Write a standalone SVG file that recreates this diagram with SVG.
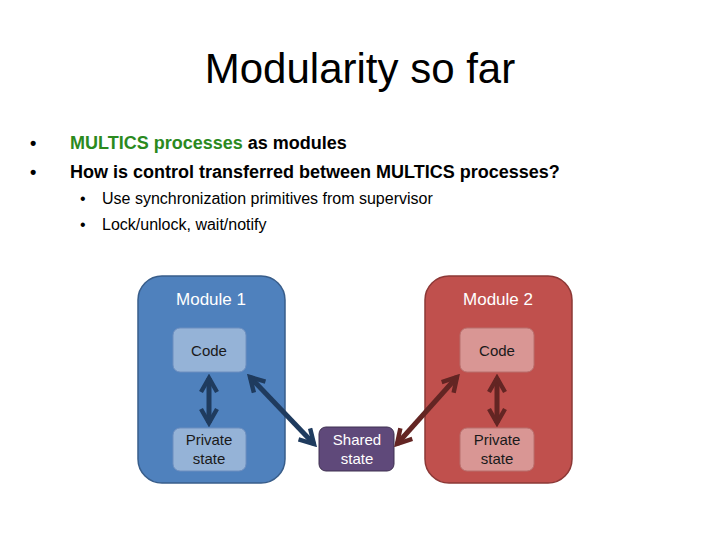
<svg xmlns="http://www.w3.org/2000/svg" width="720" height="540" viewBox="0 0 720 540">
<style>
text{font-family:"Liberation Sans",Arial,sans-serif}
.b{font-size:18px;font-weight:bold}
.s{font-size:16px}
.n{font-size:15px;fill:#1a1a1a;text-anchor:middle}
.h{font-size:17px;fill:#fff;text-anchor:middle}
</style>
<defs>
<marker id="mb" viewBox="0 0 10 10" refX="8" refY="5" markerWidth="4" markerHeight="4" orient="auto-start-reverse" markerUnits="strokeWidth"><path d="M1,1 L8,5 L1,9" fill="none" stroke="#1F3B5E" stroke-width="2.2"/></marker>
<marker id="mr" viewBox="0 0 10 10" refX="8" refY="5" markerWidth="4" markerHeight="4" orient="auto-start-reverse" markerUnits="strokeWidth"><path d="M1,1 L8,5 L1,9" fill="none" stroke="#632523" stroke-width="2.2"/></marker>
</defs>
<rect width="720" height="540" fill="#fff"/>
<text x="360" y="83" font-size="42" text-anchor="middle" fill="#000">Modularity so far</text>
<text x="30" y="149" class="b">•</text>
<text x="70" y="149" class="b"><tspan fill="#2B8A1E">MULTICS processes</tspan> as modules</text>
<text x="30" y="178" class="b">•</text>
<text x="70" y="178" class="b">How is control transferred between MULTICS processes?</text>
<text x="80" y="204" class="s">•</text>
<text x="102" y="204" class="s">Use synchronization primitives from supervisor</text>
<text x="80" y="230" class="s">•</text>
<text x="102" y="230" class="s">Lock/unlock, wait/notify</text>
<g id="module1">
<rect x="138" y="276" width="147" height="207" rx="24" fill="#4F81BD" stroke="#385D8A" stroke-width="1.5"/>
<text x="211" y="305" class="h">Module 1</text>
</g>
<g id="module2">
<rect x="425" y="276" width="147" height="207" rx="24" fill="#C0504D" stroke="#8C3836" stroke-width="1.5"/>
<text x="498" y="305" class="h">Module 2</text>
</g>
<g id="code1"><rect x="173" y="328" width="73" height="44" rx="7" fill="#95B3D7" stroke="#6C8EBF"/><text x="209" y="356" class="n">Code</text></g>
<g id="private1"><rect x="173" y="428" width="73" height="43" rx="7" fill="#95B3D7" stroke="#6C8EBF"/><text x="209" y="445" class="n">Private</text><text x="209" y="464" class="n">state</text></g>
<g id="code2"><rect x="460" y="328" width="74" height="44" rx="7" fill="#D99694" stroke="#B86E6C"/><text x="497" y="356" class="n">Code</text></g>
<g id="private2"><rect x="460" y="428" width="74" height="43" rx="7" fill="#D99694" stroke="#B86E6C"/><text x="497" y="445" class="n">Private</text><text x="497" y="464" class="n">state</text></g>
<g id="shared"><rect x="319" y="427" width="75" height="44" rx="7" fill="#5F497A" stroke="#3F3151"/><text x="357" y="445" class="n" fill="#fff" style="fill:#fff">Shared</text><text x="357" y="464" class="n" style="fill:#fff">state</text></g>
<g id="connectors" stroke-width="5" fill="none">
<line x1="209" y1="378" x2="209" y2="423" stroke="#1F3B5E" marker-start="url(#mb)" marker-end="url(#mb)"/>
<line x1="250" y1="377" x2="314" y2="444" stroke="#1F3B5E" marker-start="url(#mb)" marker-end="url(#mb)"/>
<line x1="397" y1="444" x2="457" y2="377" stroke="#632523" marker-start="url(#mr)" marker-end="url(#mr)"/>
<line x1="497" y1="378" x2="497" y2="423" stroke="#632523" marker-start="url(#mr)" marker-end="url(#mr)"/>
</g>
</svg>
